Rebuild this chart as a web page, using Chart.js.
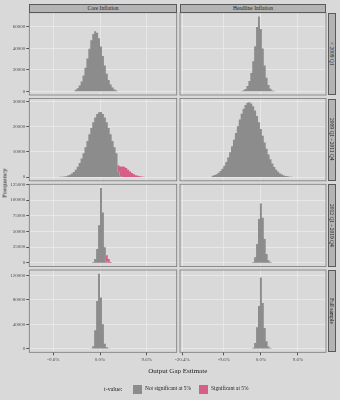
<!DOCTYPE html>
<html>
<head>
<meta charset="utf-8">
<script src="https://cdn.jsdelivr.net/npm/chart.js@4.4.1/dist/chart.umd.min.js"></script>
<style>
body{margin:0;background:#d9d9d9;}
#fig{position:relative;width:340px;height:400px;overflow:hidden;font-family:'Liberation Serif','DejaVu Serif',serif;color:#1a1a1a;}
.box{position:absolute;}
.strip{position:absolute;background:#b4b4b4;border:0.6px solid #5a5a5a;box-sizing:border-box;font-size:5.5px;display:flex;align-items:center;justify-content:center;white-space:nowrap;}
.strip.side span{writing-mode:vertical-rl;}
.lbl{position:absolute;white-space:nowrap;line-height:1;}
.sw{position:absolute;width:9px;height:9px;}
</style>
</head>
<body>
<div id="fig"></div>
<script>
// facets
const measures = ['Core Inflation', 'Headline Inflation'];
const periods = ['< 2009 Q1', '2009 Q1 - 2011 Q4', '2012 Q1 - 2019 Q4', 'Full sample'];
const legendLabels = ['Not significant at 5%', 'Significant at 5%'];

// tick labels
const coreTicks = [-9.6, 0, 9.6];
const headTicks = [-20.4, -9.6, 0, 9.6];
const freqTicks = [
  [0, 20000, 40000, 60000],
  [0, 10000, 20000, 30000],
  [0, 25000, 50000, 75000, 100000, 125000],
  [0, 40000, 80000, 120000]
];

// bins: centre of first bin and bin width (percent)
const coreBinW = 0.4;
const headBinW = 0.5;
const coreStart = [-5.0, -8.2, -1.8, -1.8];
const coreSigStart = [0, 3.8, 1.4, 1.4];
const headStart = [-5.0, -12.5, -2.0, -2.0];

// counts, core inflation
const core1 = [1400, 2900, 5400, 9200, 14800, 22000, 30600, 39600, 47700, 53500, 56000, 54500, 49400, 41700, 32800, 24000, 16400, 10400, 6200, 3400, 1700, 800];
const core1Sig = [];
const core2 = [80, 130, 220, 370, 590, 920, 1390, 2050, 2950, 4110, 5580, 7370, 9460, 11820, 14350, 16950, 19480, 21770, 23660, 25010, 25710, 25800, 25010, 23660, 21770, 19480, 16950, 14350, 11820, 9460, 2100, 300];
const core2Sig = [2600, 3900, 4200, 4100, 3600, 2900, 2200, 1600, 1100, 750, 480, 300, 180, 100, 50];
const core3 = [300, 1500, 6000, 22000, 60000, 119100, 80000, 25000, 2000];
const core3Sig = [10000, 6000, 1200];
const core4 = [500, 4000, 30000, 78000, 123000, 84000, 40000, 8000, 1500];
const core4Sig = [1200, 500];

// counts, headline inflation
const head1 = [300, 900, 2200, 4800, 9500, 17000, 28000, 42000, 60000, 69800, 58000, 40000, 24000, 12500, 5800, 2400, 800, 200];
const head2 = [510, 780, 1160, 1690, 2400, 3340, 4530, 6010, 7790, 9860, 12210, 14780, 17470, 20190, 22800, 25150, 27140, 28620, 29480, 29700, 29210, 28100, 26400, 24260, 21770, 19110, 16380, 13730, 11240, 9000, 7040, 5380, 4020, 2930, 2090, 1460, 1000, 660, 430, 280, 170, 100, 60, 40];
const head3 = [1500, 9000, 30000, 70000, 94500, 72000, 38000, 14000, 4000, 1200, 300];
const head4 = [1200, 9000, 35000, 70000, 117000, 75000, 34000, 12000, 3500, 800];

const GREY = '#8c8c8c';
const PINK = '#d65f8a';

// layout
const PANEL_TOP = [12.7, 98.5, 184.3, 270];
const PANEL_H = 82.3;
const COL_L = [29.3, 180];
const COL_R = [176.7, 326];
const X_RANGE = [[-14.55, 15.78], [-21.0, 16.9]];

const r2 = v => +v.toFixed(2);

function pts(start, w, counts) {
  return counts.map((n, i) => ({ x: r2(start + i * w), y: n }));
}

// put both groups on one shared set of bin centres, with an empty bin at each end
function series(grey, sig, w) {
  const xs = [...new Set(grey.concat(sig).map(d => d.x))].sort((a, b) => a - b);
  const all = [r2(xs[0] - w), ...xs, r2(xs[xs.length - 1] + w)];
  const g = new Map(grey.map(d => [d.x, d.y]));
  const s = new Map(sig.map(d => [d.x, d.y]));
  return {
    notSig: all.map(x => ({ x, y: g.get(x) || 0 })),
    sig: all.map(x => ({ x, y: s.get(x) || 0 }))
  };
}

const coreAll = [core1, core2, core3, core4];
const coreSigAll = [core1Sig, core2Sig, core3Sig, core4Sig];
const headAll = [head1, head2, head3, head4];

const panels = [0, 1, 2, 3].map(r => [
  series(pts(coreStart[r], coreBinW, coreAll[r]), pts(coreSigStart[r], coreBinW, coreSigAll[r]), coreBinW),
  series(pts(headStart[r], headBinW, headAll[r]), [], headBinW)
]);

function rowMax(r) {
  let m = 0;
  panels[r].forEach(p => p.notSig.forEach((d, i) => { m = Math.max(m, d.y + p.sig[i].y); }));
  return m;
}

const fig = document.getElementById('fig');

const panelBox = {
  id: 'panelBox',
  beforeDraw(chart) {
    const a = chart.chartArea, ctx = chart.ctx;
    ctx.save();
    ctx.fillStyle = '#d9d9d9';
    ctx.fillRect(a.left, a.top, a.right - a.left, a.bottom - a.top);
    ctx.restore();
  },
  afterDraw(chart) {
    const a = chart.chartArea, ctx = chart.ctx;
    ctx.save();
    ctx.strokeStyle = '#7a7a7a';
    ctx.lineWidth = 0.8;
    ctx.strokeRect(a.left, a.top, a.right - a.left, a.bottom - a.top);
    ctx.restore();
  }
};

function histSet(label, data, color, fill) {
  return {
    label, data, fill,
    backgroundColor: color,
    borderColor: 'rgba(0,0,0,0)',
    borderWidth: 0,
    stepped: 'middle',
    pointRadius: 0,
    pointHoverRadius: 0
  };
}

function makePanel(r, c) {
  const top = PANEL_TOP[r], bottom = top + PANEL_H;
  const isBottom = r === 3, isLeft = c === 0;
  const cx = isLeft ? 0 : 172;
  const cw = isLeft ? 179 : 157;
  const ct = Math.floor(top) - 6;
  const axisH = isBottom ? 13 : 0;
  const ch = Math.ceil(bottom + axisH) + 4 - ct;

  const box = document.createElement('div');
  box.className = 'box';
  box.style.cssText = `left:${cx}px;top:${ct}px;width:${cw}px;height:${ch}px;`;
  const cv = document.createElement('canvas');
  box.appendChild(cv);
  fig.appendChild(box);

  const M = rowMax(r);
  const xt = isLeft ? coreTicks : headTicks;
  const p = panels[r][c];

  new Chart(cv, {
    type: 'line',
    data: {
      datasets: [histSet(legendLabels[0], p.notSig, GREY, 'origin'), histSet(legendLabels[1], p.sig, PINK, '-1')]
    },
    options: {
      responsive: true,
      maintainAspectRatio: false,
      animation: false,
      devicePixelRatio: 1,
      layout: {
        padding: {
          left: isLeft ? 0 : COL_L[1] - cx,
          right: cx + cw - COL_R[c],
          top: top - ct,
          bottom: ch - (bottom - ct) - axisH
        }
      },
      plugins: { legend: { display: false }, tooltip: { enabled: false } },
      scales: {
        x: {
          type: 'linear',
          offset: false,
          min: X_RANGE[c][0],
          max: X_RANGE[c][1],
          afterBuildTicks: a => { a.ticks = xt.map(v => ({ value: v })); },
          afterFit: s => { s.height = axisH; s.paddingLeft = 0; s.paddingRight = 0; },
          border: { display: false },
          grid: { color: '#ebebeb', lineWidth: 0.8, drawTicks: isBottom, tickLength: 3, tickColor: '#333' },
          ticks: {
            display: isBottom, padding: 1, color: '#4d4d4d', maxRotation: 0, autoSkip: false,
            font: { family: "'Liberation Serif', serif", size: 5 },
            callback: v => v.toFixed(1) + '%'
          }
        },
        y: {
          type: 'linear',
          stacked: true,
          min: -0.05 * M,
          max: 1.05 * M,
          afterBuildTicks: a => { a.ticks = freqTicks[r].map(v => ({ value: v })); },
          afterFit: s => { s.width = isLeft ? COL_L[0] - cx : 0; s.paddingTop = 0; s.paddingBottom = 0; },
          border: { display: false },
          grid: { color: '#ebebeb', lineWidth: 0.8, drawTicks: isLeft, tickLength: 3, tickColor: '#333' },
          ticks: {
            display: isLeft, padding: 1, color: '#4d4d4d', autoSkip: false,
            font: { family: "'Liberation Serif', serif", size: 5 },
            callback: v => String(v)
          }
        }
      }
    },
    plugins: [panelBox]
  });
}

for (let r = 0; r < 4; r++) for (let c = 0; c < 2; c++) makePanel(r, c);

// strips
measures.forEach((m, c) => {
  const s = document.createElement('div');
  s.className = 'strip';
  s.style.cssText = `left:${COL_L[c]}px;top:3.8px;width:${COL_R[c] - COL_L[c]}px;height:${12.7 - 3.8}px;`;
  s.textContent = m;
  fig.appendChild(s);
});
periods.forEach((p, r) => {
  const s = document.createElement('div');
  s.className = 'strip side';
  s.style.cssText = `left:327.5px;top:${PANEL_TOP[r]}px;width:8.7px;height:${PANEL_H}px;`;
  const sp = document.createElement('span');
  sp.textContent = p;
  s.appendChild(sp);
  fig.appendChild(s);
});

function label(text, css) {
  const d = document.createElement('div');
  d.className = 'lbl';
  d.textContent = text;
  d.style.cssText = css;
  fig.appendChild(d);
  return d;
}

label('Output Gap Estimate', 'left:177.7px;top:371px;transform:translate(-50%,-50%);font-size:7px;color:#222;');
label('Frequency', 'left:4.8px;top:182.5px;transform:translate(-50%,-50%) rotate(-90deg);font-size:7px;color:#222;');

// legend
label('t-value:', 'left:104px;top:389px;transform:translateY(-50%);font-size:6px;color:#222;');
const sw1 = document.createElement('div'); sw1.className = 'sw';
sw1.style.cssText += `left:133px;top:384.5px;background:${GREY};`;
fig.appendChild(sw1);
label(legendLabels[0], 'left:145px;top:389px;transform:translateY(-50%);font-size:5.4px;color:#222;');
const sw2 = document.createElement('div'); sw2.className = 'sw';
sw2.style.cssText += `left:199px;top:384.5px;background:${PINK};`;
fig.appendChild(sw2);
label(legendLabels[1], 'left:211px;top:389px;transform:translateY(-50%);font-size:5.4px;color:#222;');
</script>
</body>
</html>
